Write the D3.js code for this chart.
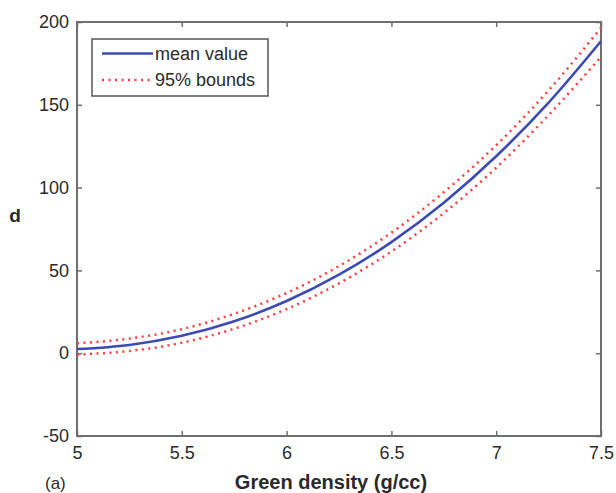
<!DOCTYPE html>
<html>
<head>
<meta charset="utf-8">
<script src="https://cdn.jsdelivr.net/npm/d3@7"></script>
<style>
  html, body { margin: 0; padding: 0; background: #fff; }
  svg { display: block; font-family: "Liberation Sans", Arial, sans-serif; }
</style>
</head>
<body>
<svg id="chart" width="616" height="493"></svg>
<script>
// Green density (g/cc) sample points
const density = [5.0, 5.25, 5.5, 5.75, 6.0, 6.25, 6.5, 6.75, 7.0, 7.25, 7.5];
// mean value of d
const meanValue = [2.5, 5.0, 10.5, 19.3, 31.5, 47.4, 67.1, 90.9, 118.9, 151.3, 188.4];
// 95% bounds of d
const upperBound = [6.0, 8.8, 14.5, 23.8, 36.3, 52.6, 72.8, 97.2, 125.6, 158.7, 196.5];
const lowerBound = [-0.8, 1.3, 6.3, 14.8, 26.6, 42.2, 61.4, 84.6, 112.0, 143.8, 179.0];

const xTicks = [5, 5.5, 6, 6.5, 7, 7.5];
const yTicks = [-50, 0, 50, 100, 150, 200];
const legendLabels = ["mean value", "95% bounds"];

const svg = d3.select("#chart");
const L = 77, R = 601, T = 22, B = 436;
const axisColor = "#6f6f6f";
const textColor = "#2a2a2a";

const x = d3.scaleLinear().domain([5, 7.5]).range([L, R]);
const y = d3.scaleLinear().domain([-50, 200]).range([B, T]);

// Plot frame
svg.append("rect")
  .attr("x", L).attr("y", T).attr("width", R - L).attr("height", B - T)
  .attr("fill", "#fff").attr("stroke", axisColor).attr("stroke-width", 2);

// Inward ticks on all four sides; plain hyphen for negatives
const fmt = d => String(d);
const tickLen = 5;
function styleAxis(g) {
  g.select(".domain").remove();
  g.selectAll(".tick line").attr("stroke", axisColor).attr("stroke-width", 1.5);
  g.selectAll(".tick text").attr("fill", textColor)
    .style("font-size", "18px").style("font-family", "'Liberation Sans', Arial, sans-serif");
}
svg.append("g").attr("transform", `translate(0,${B})`)
  .call(d3.axisBottom(x).tickValues(xTicks).tickFormat(fmt).tickSizeInner(-tickLen).tickPadding(10))
  .call(styleAxis);
svg.append("g").attr("transform", `translate(0,${T})`)
  .call(d3.axisTop(x).tickValues(xTicks).tickFormat("").tickSizeInner(-tickLen))
  .call(styleAxis);
svg.append("g").attr("transform", `translate(${L},0)`)
  .call(d3.axisLeft(y).tickValues(yTicks).tickFormat(fmt).tickSizeInner(-tickLen).tickPadding(8))
  .call(styleAxis);
svg.append("g").attr("transform", `translate(${R},0)`)
  .call(d3.axisRight(y).tickValues(yTicks).tickFormat("").tickSizeInner(-tickLen))
  .call(styleAxis);

// Curves
const line = d3.line().x((d, i) => x(density[i])).y(d => y(d)).curve(d3.curveMonotoneX);
const red = "#ff3b3b", blue = "#3c4ab4";
const dots = "2,4.5";

[upperBound, lowerBound].forEach(s => {
  svg.append("path").datum(s).attr("d", line)
    .attr("fill", "none").attr("stroke", red).attr("stroke-width", 2.5)
    .attr("stroke-dasharray", dots);
});
svg.append("path").datum(meanValue).attr("d", line)
  .attr("fill", "none").attr("stroke", blue).attr("stroke-width", 2.6);

// Legend
const lg = svg.append("g");
lg.append("rect").attr("x", 92).attr("y", 39).attr("width", 176).attr("height", 57)
  .attr("fill", "#fff").attr("stroke", "#555").attr("stroke-width", 1.5);
lg.append("line").attr("x1", 102).attr("x2", 153).attr("y1", 53.5).attr("y2", 53.5)
  .attr("stroke", blue).attr("stroke-width", 2.6);
lg.append("line").attr("x1", 102).attr("x2", 153).attr("y1", 80).attr("y2", 80)
  .attr("stroke", red).attr("stroke-width", 2.5).attr("stroke-dasharray", dots);
lg.selectAll("text.leg").data(legendLabels).join("text")
  .attr("class", "leg")
  .attr("x", 155).attr("y", (d, i) => 60 + i * 26)
  .attr("fill", textColor).style("font-size", "18px")
  .text(d => d);

// Axis titles and panel tag
svg.append("text").attr("x", 15).attr("y", 222).attr("text-anchor", "middle")
  .attr("fill", textColor).style("font-size", "19px").style("font-weight", "bold").text("d");
svg.append("text").attr("x", 331).attr("y", 489).attr("text-anchor", "middle")
  .attr("fill", textColor).style("font-size", "20px").style("font-weight", "bold").text("Green density (g/cc)");
svg.append("text").attr("x", 45).attr("y", 489)
  .attr("fill", textColor).style("font-size", "17px").text("(a)");
</script>
</body>
</html>
